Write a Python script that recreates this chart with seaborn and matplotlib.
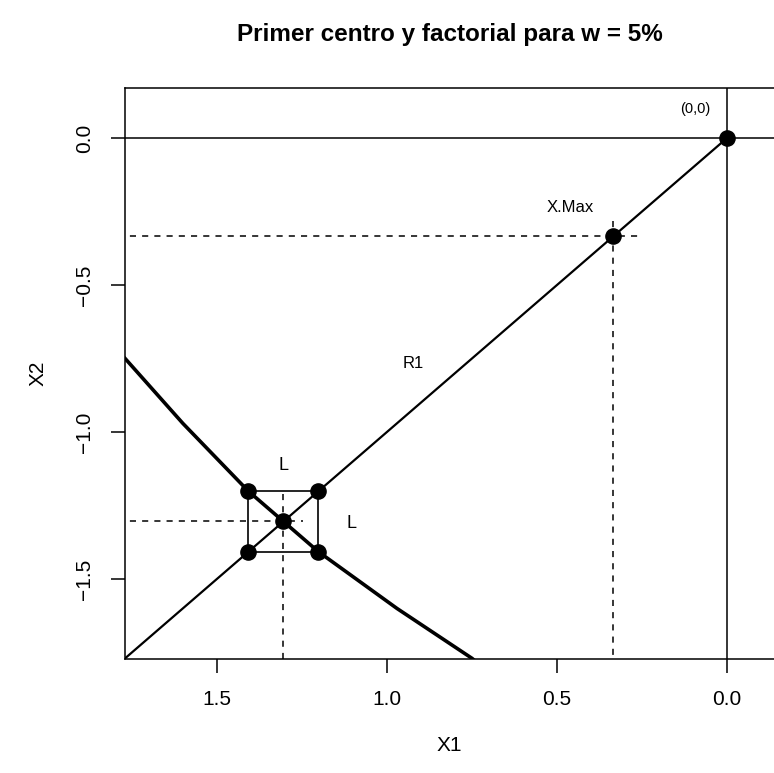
import numpy as np
import pandas as pd
import matplotlib
matplotlib.use("Agg")
import matplotlib.pyplot as plt
import seaborn as sns

# curve (thick)
curve_x = [1.85, 1.77, 1.60, 1.407, 1.304, 1.201, 0.97, 0.749, 0.70]
curve_y = [-0.65, -0.749, -0.97, -1.201, -1.304, -1.407, -1.60, -1.77, -1.82]

# ray R1 from the origin
r1_x = [0.0, 2.0]
r1_y = [0.0, -2.0]

# points: origin, X.Max, center, factorial corners
pts_x = [0.0, 1 / 3, 1.304, 1.407, 1.201, 1.407, 1.201]
pts_y = [0.0, -1 / 3, -1.304, -1.201, -1.201, -1.407, -1.407]

# square of the factorial design
sq_x = [1.407, 1.201, 1.201, 1.407, 1.407]
sq_y = [-1.201, -1.201, -1.407, -1.407, -1.201]

xmax_pt = (1 / 3, -1 / 3)
center_pt = (1.304, -1.304)

sns.set_style("ticks")
plt.rcParams["font.family"] = ["Liberation Sans", "DejaVu Sans"]
plt.rcParams["text.color"] = "black"
plt.rcParams["axes.labelcolor"] = "black"

fig = plt.figure(figsize=(7.74, 7.73), dpi=100)
ax = fig.add_axes([125 / 774, 1 - 659 / 773, 1 - 125 / 774, (659 - 88.3) / 773])

curve = pd.DataFrame({"x": curve_x, "y": curve_y})
r1 = pd.DataFrame({"x": r1_x, "y": r1_y})
sq = pd.DataFrame({"x": sq_x, "y": sq_y})
pts = pd.DataFrame({"x": pts_x, "y": pts_y})

ax.axhline(0, color="black", lw=1.1)
ax.axvline(0, color="black", lw=1.1)

sns.lineplot(data=r1, x="x", y="y", sort=False, estimator=None, color="black", lw=1.6, ax=ax)
sns.lineplot(data=curve, x="x", y="y", sort=False, estimator=None, color="black", lw=2.6, ax=ax)
sns.lineplot(data=sq, x="x", y="y", sort=False, estimator=None, color="black", lw=1.2, ax=ax)

# dashed guides
ax.plot([1.9, 0.255], [xmax_pt[1]] * 2, ls=(0, (4, 4)), color="black", lw=1.1)
ax.plot([xmax_pt[0]] * 2, [-0.28, -1.9], ls=(0, (4, 4)), color="black", lw=1.1)
ax.plot([1.9, 1.246], [center_pt[1]] * 2, ls=(0, (4, 4)), color="black", lw=1.1)
ax.plot([center_pt[0]] * 2, [-1.21, -1.9], ls=(0, (4, 4)), color="black", lw=1.1)

sns.scatterplot(data=pts, x="x", y="y", color="black", s=120, edgecolor="black",
                linewidth=1, zorder=5, ax=ax)

ax.text(0.093, 0.099, "(0,0)", fontsize=10.5, ha="center", va="center")
ax.text(0.461, -0.237, "X.Max", fontsize=12, ha="center", va="center")
ax.text(0.923, -0.765, "R1", fontsize=12, ha="center", va="center")
ax.text(1.304, -1.112, "L", fontsize=13, ha="center", va="center")
ax.text(1.103, -1.31, "L", fontsize=13, ha="center", va="center")

ax.set_xlim(1.77, -0.139)
ax.set_ylim(-1.772, 0.17)
ax.set_xticks([1.5, 1.0, 0.5, 0.0])
ax.set_xticklabels(["1.5", "1.0", "0.5", "0.0"])
ax.set_yticks([0.0, -0.5, -1.0, -1.5])
ax.set_yticklabels(["0.0", "\u22120.5", "\u22121.0", "\u22121.5"], rotation=90, va="center")
ax.tick_params(direction="out", length=10, width=1.1, labelsize=15, pad=12,
               colors="black", labelcolor="black")
for side in ["left", "bottom", "top"]:
    ax.spines[side].set_color("black")
    ax.spines[side].set_linewidth(1.1)
ax.spines["right"].set_visible(False)

ax.set_xlabel("X1", fontsize=15, labelpad=20)
ax.set_ylabel("X2", fontsize=15, labelpad=20)
ax.set_title("Primer centro y factorial para w = 5%", fontsize=17.5, fontweight="bold", pad=34)

fig.savefig("out.png", dpi=100)
